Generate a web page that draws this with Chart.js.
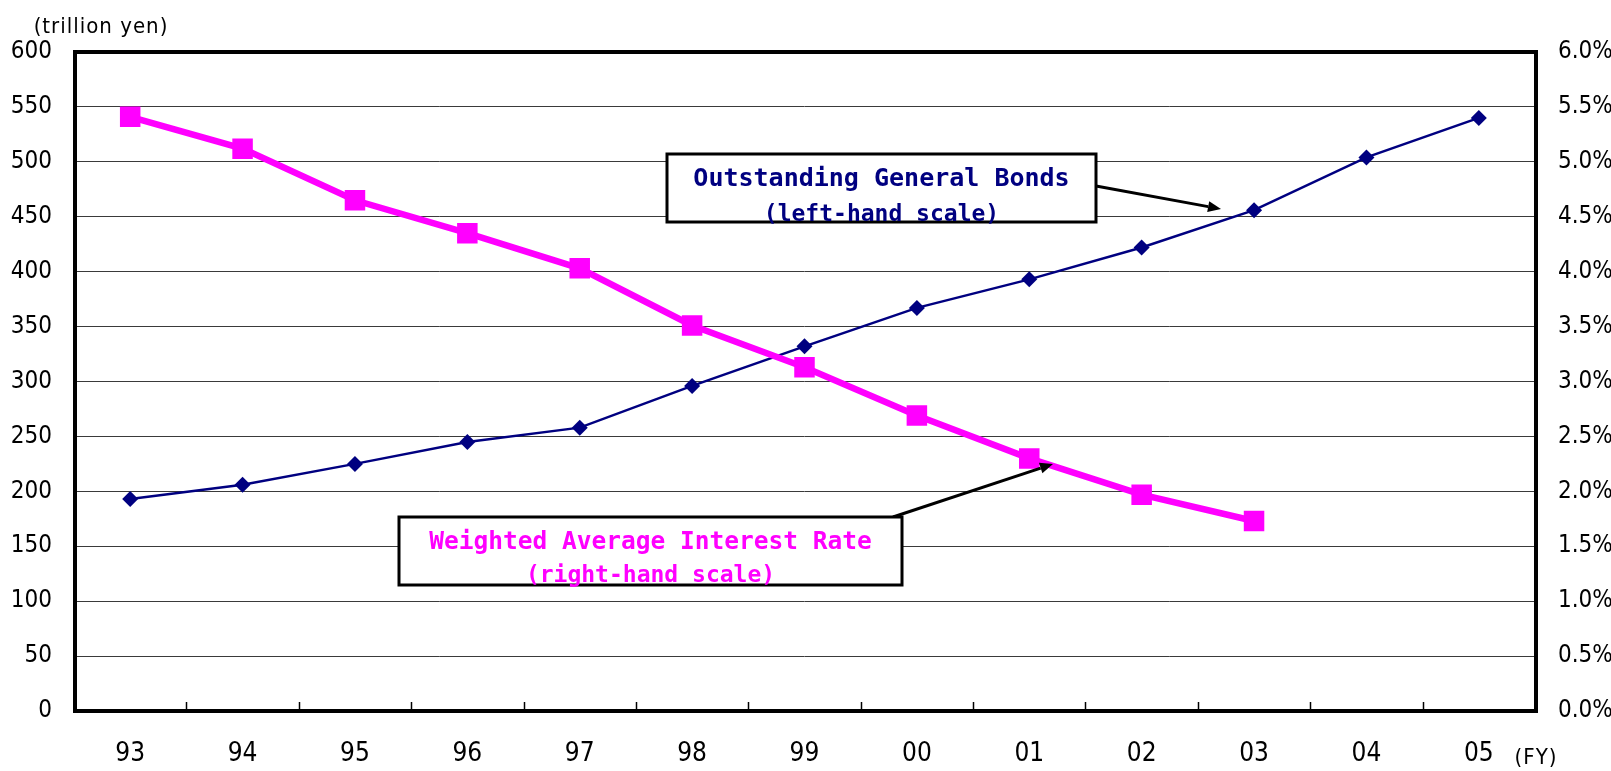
<!DOCTYPE html>
<html>
<head>
<meta charset="utf-8">
<script src="https://cdn.jsdelivr.net/npm/chart.js@4.4.1/dist/chart.umd.min.js"></script>
<style>
  html, body { margin: 0; padding: 0; background: #ffffff; }
  canvas { display: block; }
</style>
</head>
<body>
<canvas id="chart" width="1611" height="771"></canvas>
<script>
// Fiscal years (FY1993 - FY2005)
const fiscalYears = ['93', '94', '95', '96', '97', '98', '99', '00', '01', '02', '03', '04', '05'];
// Outstanding general bonds, trillion yen (left-hand scale)
const bondsOutstanding = [193, 206, 225, 245, 258, 296, 332, 367, 393, 422, 456, 504, 540];
// Weighted average interest rate, % (right-hand scale); no data for 04 and 05
const avgInterestRate = [5.41, 5.12, 4.65, 4.35, 4.03, 3.51, 3.13, 2.69, 2.30, 1.97, 1.73, null, null];

const NAVY = '#000080';
const MAGENTA = '#ff00ff';
const TICK_FONT = "'DejaVu Sans Condensed', 'DejaVu Sans', sans-serif";
const NOTE_FONT = "'DejaVu Sans Mono', monospace";

// Frame, inward category tick marks, unit captions and the two callouts
const decorations = {
  id: 'decorations',
  beforeDatasetsDraw(chart) {
    const { ctx, chartArea: a, scales: { x } } = chart;
    ctx.save();
    // short tick marks between categories, pointing up from the bottom axis
    ctx.strokeStyle = '#000';
    ctx.lineWidth = 1.5;
    for (let i = 0; i < fiscalYears.length - 1; i++) {
      const px = Math.round((x.getPixelForValue(i) + x.getPixelForValue(i + 1)) / 2) + 0.5;
      ctx.beginPath();
      ctx.moveTo(px, a.bottom);
      ctx.lineTo(px, a.bottom - 9);
      ctx.stroke();
    }
    // heavy plot frame
    ctx.lineWidth = 4;
    ctx.strokeRect(a.left + 1, a.top, a.right - a.left, a.bottom - a.top);
    ctx.restore();
  },
  afterDraw(chart) {
    const { ctx } = chart;
    ctx.save();

    // unit captions
    ctx.fillStyle = '#000';
    ctx.font = "22px " + TICK_FONT;
    ctx.letterSpacing = '1px';
    ctx.textAlign = 'center';
    ctx.textBaseline = 'alphabetic';
    ctx.fillText('(trillion yen)', 101, 33);
    ctx.fillText('(FY)', 1536, 764);
    ctx.letterSpacing = '0px';

    function arrow(x1, y1, x2, y2) {
      const ang = Math.atan2(y2 - y1, x2 - x1);
      const len = 13, half = 5.5;
      const bx = x2 - len * Math.cos(ang), by = y2 - len * Math.sin(ang);
      ctx.strokeStyle = '#000';
      ctx.fillStyle = '#000';
      ctx.lineWidth = 3;
      ctx.beginPath();
      ctx.moveTo(x1, y1);
      ctx.lineTo(bx, by);
      ctx.stroke();
      ctx.beginPath();
      ctx.moveTo(x2, y2);
      ctx.lineTo(bx + half * Math.sin(ang), by - half * Math.cos(ang));
      ctx.lineTo(bx - half * Math.sin(ang), by + half * Math.cos(ang));
      ctx.closePath();
      ctx.fill();
    }

    function callout(box, lines, color) {
      ctx.fillStyle = '#fff';
      ctx.fillRect(box.x, box.y, box.w, box.h);
      ctx.strokeStyle = '#000';
      ctx.lineWidth = 3;
      ctx.strokeRect(box.x, box.y, box.w, box.h);
      ctx.fillStyle = color;
      ctx.textAlign = 'center';
      ctx.textBaseline = 'alphabetic';
      const cx = box.x + box.w / 2;
      lines.forEach(l => {
        ctx.font = 'bold ' + l.size + 'px ' + NOTE_FONT;
        ctx.fillText(l.text, cx, l.y);
      });
    }

    // left-hand series callout
    arrow(1096, 186, 1221, 209);
    callout({ x: 667, y: 154, w: 429, h: 68 }, [
      { text: 'Outstanding General Bonds', y: 186, size: 25 },
      { text: '(left-hand scale)', y: 221, size: 23 }
    ], NAVY);

    // right-hand series callout
    arrow(893, 517, 1053, 464);
    callout({ x: 399, y: 517, w: 503, h: 68 }, [
      { text: 'Weighted Average Interest Rate', y: 549, size: 24.5 },
      { text: '(right-hand scale)', y: 582, size: 23 }
    ], MAGENTA);

    ctx.restore();
  }
};

new Chart(document.getElementById('chart'), {
  type: 'line',
  data: {
    labels: fiscalYears,
    datasets: [
      {
        label: 'Weighted Average Interest Rate',
        data: avgInterestRate,
        yAxisID: 'y1',
        borderColor: MAGENTA,
        backgroundColor: MAGENTA,
        borderWidth: 6.5,
        pointStyle: 'rect',
        pointRadius: 14.5,
        pointBorderWidth: 0,
        pointBackgroundColor: MAGENTA,
        spanGaps: false
      },
      {
        label: 'Outstanding General Bonds',
        data: bondsOutstanding,
        yAxisID: 'y',
        borderColor: NAVY,
        backgroundColor: NAVY,
        borderWidth: 2.5,
        pointStyle: 'rectRot',
        pointRadius: 8,
        pointBorderWidth: 0,
        pointBackgroundColor: NAVY
      }
    ]
  },
  options: {
    responsive: false,
    devicePixelRatio: 1,
    animation: false,
    layout: { padding: { top: 52, left: 0, right: 0, bottom: 0 } },
    elements: { line: { tension: 0 } },
    plugins: { legend: { display: false }, tooltip: { enabled: false } },
    scales: {
      x: {
        type: 'category',
        offset: true,
        grid: { display: false, drawTicks: false },
        border: { display: false },
        ticks: { color: '#000', font: { family: TICK_FONT, size: 26 }, padding: 28, maxRotation: 0 },
        afterFit(s) { s.height = 60; }
      },
      y: {
        position: 'left',
        min: 0, max: 600,
        grid: { color: '#3a3a3a', lineWidth: 1, drawTicks: false },
        border: { display: false },
        ticks: { stepSize: 50, color: '#000', font: { family: TICK_FONT, size: 24 }, padding: 22 },
        afterFit(s) { s.width = 74; }
      },
      y1: {
        position: 'right',
        min: 0, max: 6,
        grid: { display: false, drawTicks: false },
        border: { display: false },
        ticks: {
          stepSize: 0.5, color: '#000', font: { family: TICK_FONT, size: 24 }, padding: 23,
          callback: v => v.toFixed(1) + '%'
        },
        afterFit(s) { s.width = 76; }
      }
    }
  },
  plugins: [decorations]
});
</script>
</body>
</html>
